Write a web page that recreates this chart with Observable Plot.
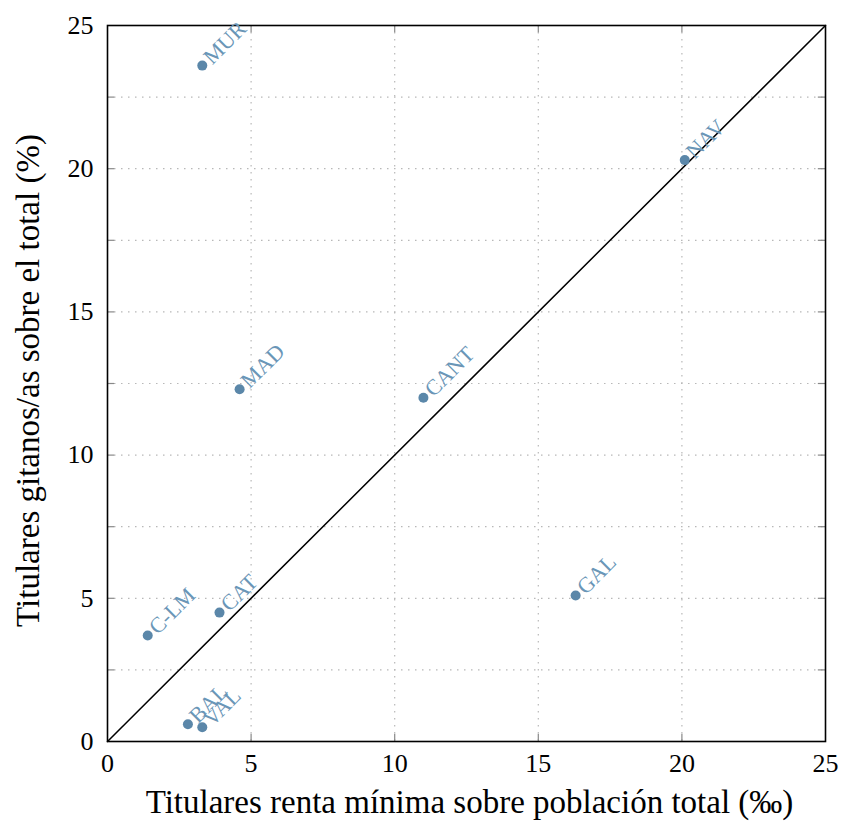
<!DOCTYPE html>
<html>
<head>
<meta charset="utf-8">
<script src="https://cdn.jsdelivr.net/npm/d3@7"></script>
<script src="https://cdn.jsdelivr.net/npm/@observablehq/plot@0.6"></script>
<style>
  html, body { margin: 0; padding: 0; background: #fff; }
  #chart svg { display: block; }
  #chart svg, #chart svg text { font-family: "Liberation Serif", "DejaVu Serif", serif !important; }
</style>
</head>
<body>
<div id="chart"></div>
<script>
const regions = ["MUR", "NAV", "MAD", "CANT", "GAL", "CAT", "C-LM", "BAL", "VAL"];
const rentaMinima = [3.3, 20.1, 4.6, 11.0, 16.3, 3.9, 1.4, 2.8, 3.3];
const titularesGitanos = [23.6, 20.3, 12.3, 12.0, 5.1, 4.5, 3.7, 0.6, 0.5];
const majorTicks = [0, 5, 10, 15, 20, 25];
const gridXTicks = [5, 10, 15, 20];
const gridYTicks = [2.5, 5, 7.5, 10, 12.5, 15, 17.5, 20, 22.5];
const xLabel = "Titulares renta mínima sobre población total (‰)";
const yLabel = "Titulares gitanos/as sobre el total (%)";

const data = regions.map((r, i) => ({region: r, x: rentaMinima[i], y: titularesGitanos[i]}));
const diag = [[0, 0], [25, 25]];

const dotColor = "#5b87a9";
const gridColor = "#b8b8b8";

const chart = Plot.plot({
  width: 841,
  height: 823,
  marginLeft: 107,
  marginRight: 16,
  marginTop: 25,
  marginBottom: 82,
  style: {background: "#fff", overflow: "visible"},
  x: {domain: [0, 25], ticks: majorTicks, label: null},
  y: {domain: [0, 25], ticks: majorTicks, label: null},
  marks: [
    Plot.gridX(gridXTicks, {stroke: gridColor, strokeOpacity: 1, strokeDasharray: "1.5,5.5", strokeWidth: 1.2}),
    Plot.gridY(gridYTicks, {stroke: gridColor, strokeOpacity: 1, strokeDasharray: "1.5,5.5", strokeWidth: 1.2}),
    Plot.ruleX(gridXTicks, {x: d => d, y1: 0, y2: 0.25, stroke: "#888", strokeWidth: 1.2}),
    Plot.ruleX(gridXTicks, {x: d => d, y1: 24.75, y2: 25, stroke: "#888", strokeWidth: 1.2}),
    Plot.ruleY(gridYTicks, {y: d => d, x1: 0, x2: 0.25, stroke: "#888", strokeWidth: 1.2}),
    Plot.ruleY(gridYTicks, {y: d => d, x1: 24.75, x2: 25, stroke: "#888", strokeWidth: 1.2}),
    Plot.line(diag, {x: d => d[0], y: d => d[1], stroke: "#000", strokeWidth: 1.5}),
    Plot.frame({stroke: "#000", strokeWidth: 1.6}),
    Plot.dot(data, {x: "x", y: "y", r: 5, fill: dotColor, stroke: "none"}),
    Plot.text(data, {
      x: "x", y: "y", text: "region",
      rotate: -45, textAnchor: "start", lineAnchor: "bottom",
      dx: 10, dy: 0,
      fontSize: 22, fill: "#6a96b7"
    }),
    Plot.axisX({ticks: majorTicks, tickSize: 0, tickPadding: 12, fontSize: 26, label: null, fill: "#000"}),
    Plot.axisY({ticks: majorTicks, tickSize: 0, tickPadding: 14, fontSize: 26, label: null, fill: "#000"}),
    Plot.text([xLabel], {frameAnchor: "bottom", textAnchor: "middle", dy: 71, dx: 3, fontSize: 33, fill: "#000"}),
    Plot.text([yLabel], {frameAnchor: "left", textAnchor: "middle", rotate: -90, dx: -79, dy: -3, fontSize: 33, fill: "#000"})
  ]
});
document.getElementById("chart").appendChild(chart);
</script>
</body>
</html>
